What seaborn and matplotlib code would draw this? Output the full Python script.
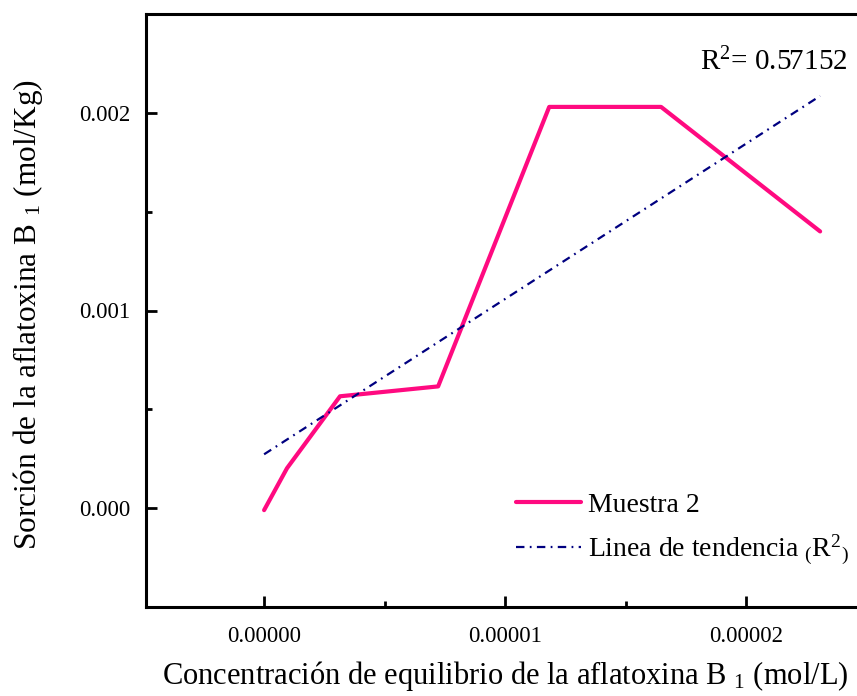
import numpy as np
import pandas as pd
import matplotlib
matplotlib.use("Agg")
import matplotlib.pyplot as plt
from matplotlib.ticker import MultipleLocator, FixedLocator
import seaborn as sns

# Equilibrium concentration (mol/L) and sorbed amount (mol/Kg)
conc = [0.0, 0.095e-5, 0.315e-5, 0.722e-5, 1.183e-5, 1.647e-5, 2.307e-5]
sorcion = [-0.00001, 0.000202, 0.000566, 0.000616, 0.00203, 0.00203, 0.00140]
r2_text = "0.57152"
x_ticks = [0.0, 0.00001, 0.00002]
x_tick_labels = ["0.00000", "0.00001", "0.00002"]
y_ticks = [0.0, 0.001, 0.002]
y_tick_labels = ["0.000", "0.001", "0.002"]

sns.set_theme(style="ticks")
plt.rcParams["font.family"] = ["Liberation Serif", "DejaVu Serif"]
plt.rcParams["mathtext.fontset"] = "custom"
plt.rcParams["mathtext.rm"] = "Liberation Serif"
plt.rcParams["mathtext.it"] = "Liberation Serif:italic"
plt.rcParams["mathtext.bf"] = "Liberation Serif:bold"
plt.rcParams["text.color"] = "black"
plt.rcParams["axes.labelcolor"] = "black"

df = pd.DataFrame({"conc": conc, "sorcion": sorcion})

# Linear trend line over the measured range
slope, intercept = np.polyfit(conc, sorcion, 1)
trend = pd.DataFrame({"conc": [conc[0], conc[-1]]})
trend["sorcion"] = intercept + slope * trend["conc"]

fig = plt.figure(figsize=(8.57, 6.96), dpi=100)
ax = fig.add_axes([146 / 857, 1 - 607 / 696, 1 - 146 / 857 + 0.02, (607 - 14) / 696])

pink = "#FF0A80"
navy = "#000080"

sns.lineplot(data=df, x="conc", y="sorcion", ax=ax, color=pink, lw=3.0,
             sort=False, estimator=None, label="Muestra 2")
sns.lineplot(data=trend, x="conc", y="sorcion", ax=ax, color=navy, lw=1.6,
             sort=False, estimator=None,
             label=r"Linea de tendencia $\mathregular{{}_{(}R^{2}{}_{)}}$")
ax.lines[-1].set_dashes((3.8, 2.4, 0.8, 2.4))

ax.set_xlim(-0.49e-5, 2.46e-5 + 0.02 * 857 / 241 * 1e-5)
ax.set_ylim(-0.0005, 0.0025)

ax.xaxis.set_major_locator(FixedLocator(x_ticks))
ax.set_xticklabels(x_tick_labels)
ax.xaxis.set_minor_locator(MultipleLocator(0.5e-5))
ax.yaxis.set_major_locator(FixedLocator(y_ticks))
ax.set_yticklabels(y_tick_labels)
ax.yaxis.set_minor_locator(MultipleLocator(0.0005))

ax.tick_params(which="both", direction="in", width=2.0, colors="black",
               labelsize=16.5)
ax.tick_params(axis="x", which="major", length=8, pad=14)
ax.tick_params(axis="x", which="minor", length=4)
ax.tick_params(axis="y", which="major", length=8, pad=11)
ax.tick_params(axis="y", which="minor", length=4)

for side in ("left", "bottom", "top"):
    ax.spines[side].set_linewidth(2.2)
    ax.spines[side].set_color("black")
ax.spines["right"].set_visible(False)

ax.set_xlabel(r"Concentración de equilibrio de la aflatoxina B $\mathregular{_1}$ (mol/L)",
              fontsize=22)
ax.set_ylabel(r"Sorción de la aflatoxina B $\mathregular{_1}$ (mol/Kg)",
              fontsize=22.5)
ax.xaxis.label.set_va("center")
ax.yaxis.label.set_va("center")
ax.xaxis.set_label_coords(505 / 857, 1 - 676 / 696, transform=fig.transFigure)
ax.yaxis.set_label_coords(28 / 857, 1 - 315 / 696, transform=fig.transFigure)

fig.text(774 / 857, 1 - 62 / 696, r"R$\mathregular{^2}$= " + r2_text,
         fontsize=21, ha="center", va="center")

leg = ax.legend(loc="upper left", bbox_to_anchor=(0.4925, 0.212), frameon=False,
                fontsize=20, handlelength=2.35, handletextpad=0.25,
                labelspacing=0.55, borderaxespad=0)

fig.savefig("out.png", dpi=100, facecolor="white")
